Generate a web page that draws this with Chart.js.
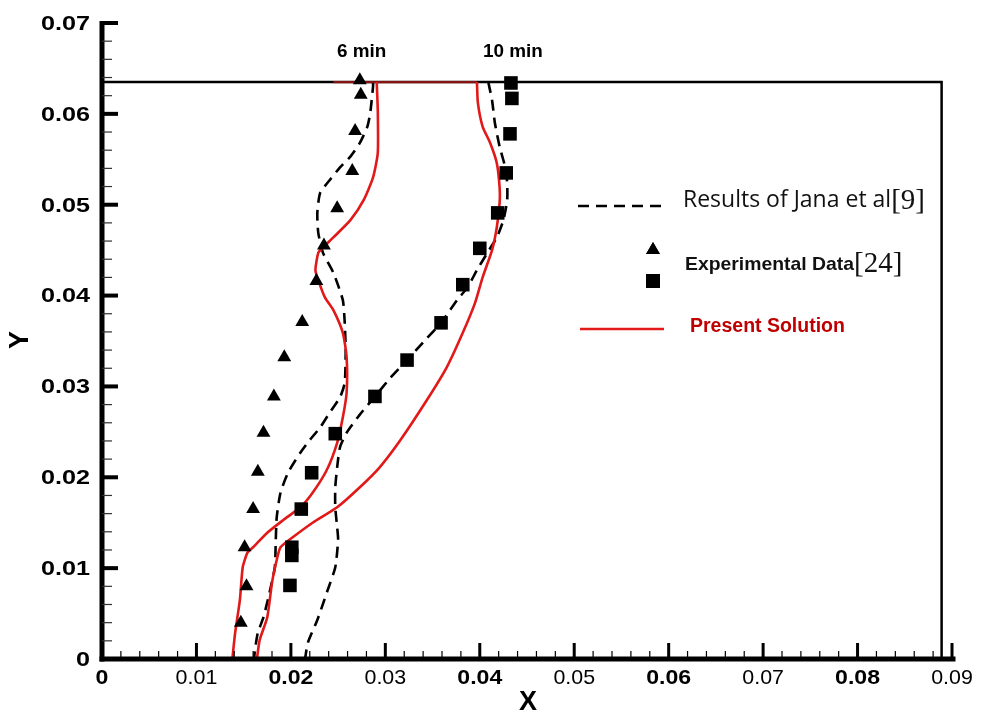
<!DOCTYPE html>
<html><head><meta charset="utf-8">
<script src="https://cdn.jsdelivr.net/npm/chart.js@4.4.0/dist/chart.umd.min.js"></script>
<style>html,body{margin:0;padding:0;background:#fff}#wrap{width:982px;height:716px;position:relative}</style>
</head><body><div id="wrap"><canvas id="c"></canvas></div>
<script>
// ---- tick labels ----
const xTickValues = [0,0.01,0.02,0.03,0.04,0.05,0.06,0.07,0.08,0.09];
const xTickLabels = ['0','0.01','0.02','0.03','0.04','0.05','0.06','0.07','0.08','0.09'];
const yTickValues = [0,0.01,0.02,0.03,0.04,0.05,0.06,0.07];
const yTickLabels = ['0','0.01','0.02','0.03','0.04','0.05','0.06','0.07'];
const tankWidth = 0.0889, tankHeight = 0.0635;
const timeLabels = ['6 min','10 min'];
const timeLabelX = [0.0275, 0.0435];
const timeLabelY = [0.0668, 0.0668];
const legendLabels = ['Results of Jana et al','[9]','Experimental Data','[24]','Present Solution'];

// ---- Experimental data [24] ----
const exp6X  = [0.0273,0.0274,0.0268,0.0265,0.0249,0.0235,0.0227,0.0212,0.0193,0.0182,0.0171,0.0165,0.0160,0.0151,0.0153,0.0147];
const exp6Y  = [0.0637,0.0621,0.0581,0.0537,0.0496,0.0455,0.0416,0.0371,0.0332,0.0289,0.0249,0.0206,0.0165,0.0123,0.0080,0.0040];
const exp10X = [0.0433,0.0434,0.0432,0.0428,0.0419,0.0400,0.0382,0.0359,0.0323,0.0289,0.0247,0.0222,0.0211,0.0201,0.0201,0.0199];
const exp10Y = [0.0634,0.0617,0.0578,0.0535,0.0491,0.0452,0.0412,0.0370,0.0329,0.0289,0.0248,0.0205,0.0165,0.0123,0.0114,0.0081];

// ---- Results of Jana et al [9] ----
const jana6X  = [0.0287,0.0287,0.0284,0.0281,0.0273,0.0263,0.0252,0.0241,0.0231,0.0228,0.0229,0.0234,0.0245,0.0255,0.0257,0.0258,0.0257,0.0252,0.0241,0.0231,0.0220,0.0210,0.0197,0.0189,0.0185,0.0184,0.0183,0.0178,0.0171,0.0165,0.0162,0.0161];
const jana6Y  = [0.0635,0.0630,0.0601,0.0586,0.0568,0.0553,0.0541,0.0527,0.0513,0.0491,0.0469,0.0447,0.0425,0.0395,0.0370,0.0340,0.0304,0.0288,0.0271,0.0255,0.0241,0.0227,0.0205,0.0183,0.0156,0.0131,0.0101,0.0076,0.0046,0.0029,0.0010,0];
const jana10X = [0.0409,0.0413,0.0416,0.0421,0.0427,0.0429,0.0429,0.0425,0.0418,0.0408,0.0397,0.0387,0.0376,0.0359,0.0344,0.0323,0.0305,0.0289,0.0273,0.0259,0.0252,0.0249,0.0247,0.0247,0.0249,0.0250,0.0247,0.0238,0.0228,0.0218,0.0215];
const jana10Y = [0.0635,0.0615,0.0590,0.0564,0.0541,0.0524,0.0505,0.0483,0.0464,0.0447,0.0428,0.0409,0.0395,0.0370,0.0353,0.0329,0.0309,0.0289,0.0269,0.0249,0.0233,0.0211,0.0189,0.0167,0.0145,0.0131,0.0101,0.0073,0.0043,0.0018,0];

// ---- Present Solution ----
const present6X  = [0.0138,0.0141,0.0146,0.0149,0.0154,0.0160,0.0175,0.0192,0.0210,0.0223,0.0238,0.0249,0.0255,0.0259,0.0259,0.0255,0.0245,0.0236,0.0229,0.0226,0.0229,0.0234,0.0245,0.0263,0.0277,0.0287,0.0292,0.0292,0.0291,0.0291];
const present6Y  = [0,0.0029,0.0065,0.0101,0.0117,0.0123,0.0139,0.0153,0.0167,0.0183,0.0208,0.0238,0.0266,0.0293,0.0332,0.0359,0.0384,0.0398,0.0417,0.0428,0.0447,0.0453,0.0464,0.0483,0.0505,0.0530,0.0557,0.0604,0.0632,0.0635];
const present10X = [0.0397,0.0398,0.0403,0.0411,0.0418,0.0421,0.0421,0.0418,0.0413,0.0403,0.0395,0.0382,0.0365,0.0344,0.0316,0.0294,0.0273,0.0249,0.0223,0.0202,0.0189,0.0185,0.0180,0.0175,0.0167,0.0164];
const present10Y = [0.0635,0.0612,0.0586,0.0568,0.0546,0.0519,0.0502,0.0475,0.0450,0.0420,0.0392,0.0359,0.0321,0.0285,0.0241,0.0211,0.0189,0.0167,0.0150,0.0134,0.0123,0.0109,0.0084,0.0046,0.0021,0];
// free-surface segment of the present solution joining the two profiles
const presentTopX = [0.0245, 0.0397];
const presentTopY = [0.0635, 0.0635];

const pts = (xs, ys) => xs.map((v, i) => ({x: v, y: ys[i]}));
const RED = 'rgb(225,25,25)';
const DASH = [11, 7];
const FONT = '"Liberation Sans", Arial, Helvetica, sans-serif';

function txt(ctx, s, x, y, font, align, base, color, sx) {
  ctx.save();
  ctx.font = font; ctx.textAlign = align; ctx.textBaseline = base; ctx.fillStyle = color;
  ctx.translate(x, y); ctx.scale(sx || 1, 1);
  ctx.fillText(s, 0, 0);
  ctx.restore();
}

const deco = {
  id: 'deco',
  beforeDatasetsDraw(chart) {
    const {ctx, scales: {x, y}} = chart;
    const x0 = x.getPixelForValue(0), y0 = y.getPixelForValue(0);
    const yT = y.getPixelForValue(tankHeight), xR = x.getPixelForValue(tankWidth);
    ctx.save();
    ctx.strokeStyle = '#000'; ctx.lineWidth = 2.5;
    ctx.beginPath(); ctx.moveTo(x0, yT); ctx.lineTo(xR, yT); ctx.lineTo(xR, y0); ctx.stroke();
    ctx.restore();
  },
  afterDatasetsDraw(chart) {
    const {ctx, scales: {x, y}} = chart;
    const x0 = x.getPixelForValue(0), y0 = y.getPixelForValue(0);
    const xE = x.getPixelForValue(0.09), yE = y.getPixelForValue(0.07);
    ctx.save();
    ctx.fillStyle = '#000';
    // axes
    ctx.fillRect(x0 - 2.5, yE - 2, 5, y0 - yE + 4.5);
    ctx.fillRect(x0 - 2.5, y0 - 2.5, xE - x0 + 6, 5);
    // x ticks
    for (let k = 0; k <= 45; k++) {
      const px = x.getPixelForValue(k * 0.002);
      if (k % 5 === 0) ctx.fillRect(px - 1.5, y0 - 16, 3, 16);
      else ctx.fillRect(px - 0.6, y0 - 8, 1.2, 8);
    }
    // y ticks
    for (let k = 0; k <= 35; k++) {
      const py = y.getPixelForValue(k * 0.002);
      if (k % 5 === 0) ctx.fillRect(x0, py - 2, 16, 4);
      else { ctx.fillStyle = '#333'; ctx.fillRect(x0, py - 0.6, 10, 1.2); ctx.fillStyle = '#000'; }
    }
    // tick labels
    xTickValues.forEach((v, i) => {
      const bold = i % 2 === 0;
      txt(ctx, xTickLabels[i], x.getPixelForValue(v), 668, (bold ? 'bold ' : '') + '21px ' + FONT, 'center', 'top', '#000', bold ? 1.1 : 1.02);
    });
    yTickValues.forEach((v, i) => {
      txt(ctx, yTickLabels[i], 90, y.getPixelForValue(v) + 1, 'bold 21px ' + FONT, 'right', 'middle', '#000', 1.2);
    });
    // axis titles
    txt(ctx, 'X', 528, 703, 'bold 27px ' + FONT, 'center', 'middle', '#000', 1);
    ctx.save(); ctx.translate(21, 340); ctx.rotate(-Math.PI / 2);
    txt(ctx, 'Y', 0, 0, 'bold 27px ' + FONT, 'center', 'middle', '#000', 1);
    ctx.restore();
    // time annotations
    timeLabels.forEach((s, i) => {
      txt(ctx, s, x.getPixelForValue(timeLabelX[i]), y.getPixelForValue(timeLabelY[i]), 'bold 18px ' + FONT, 'center', 'middle', '#000', 1.05);
    });
    // legend
    ctx.strokeStyle = '#000'; ctx.lineWidth = 2.5; ctx.setLineDash(DASH);
    ctx.beginPath(); ctx.moveTo(578, 206); ctx.lineTo(664, 206); ctx.stroke();
    ctx.setLineDash([]);
    txt(ctx, legendLabels[0], 683, 207, '23px "Open Sans", sans-serif', 'left', 'alphabetic', '#111', 1);
    ctx.font = '23px "Open Sans", sans-serif';
    const w0 = ctx.measureText(legendLabels[0]).width;
    txt(ctx, legendLabels[1], 683 + w0, 209, '29px "Liberation Serif", serif', 'left', 'alphabetic', '#111', 1);
    // markers
    Chart.helpers.drawPoint(ctx, {pointStyle: 'triangle', radius: 8, borderWidth: 0, rotation: 0}, 653, 250);
    ctx.fill();
    txt(ctx, legendLabels[2], 685, 270, 'bold 19px ' + FONT, 'left', 'alphabetic', '#111', 1.02);
    ctx.font = 'bold 19px ' + FONT;
    const w2 = ctx.measureText(legendLabels[2]).width * 1.02;
    txt(ctx, legendLabels[3], 685 + w2, 272, '29px "Liberation Serif", serif', 'left', 'alphabetic', '#111', 1);
    ctx.fillStyle = '#000';
    ctx.fillRect(646, 274, 14, 14);
    ctx.strokeStyle = RED; ctx.lineWidth = 2.5;
    ctx.beginPath(); ctx.moveTo(580, 329); ctx.lineTo(664, 329); ctx.stroke();
    txt(ctx, legendLabels[4], 690, 332, 'bold 19.5px ' + FONT, 'left', 'alphabetic', '#c00000', 1);
    ctx.restore();
  }
};

new Chart(document.getElementById('c'), {
  type: 'scatter',
  data: {
    datasets: [
      {label: 'exp6', data: pts(exp6X, exp6Y), pointStyle: 'triangle', pointRadius: 8, backgroundColor: '#000', borderColor: '#000', borderWidth: 0, showLine: false, order: 0},
      {label: 'exp10', data: pts(exp10X, exp10Y), pointStyle: 'rect', pointRadius: 9.6, backgroundColor: '#000', borderColor: '#000', borderWidth: 0, showLine: false, order: 0},
      {label: 'present6', data: pts(present6X, present6Y), showLine: true, borderColor: RED, borderWidth: 2.6, pointRadius: 0, tension: 0.2, order: 1},
      {label: 'present10', data: pts(present10X, present10Y), showLine: true, borderColor: RED, borderWidth: 2.6, pointRadius: 0, tension: 0.2, order: 1},
      {label: 'presentTop', data: pts(presentTopX, presentTopY), showLine: true, borderColor: 'rgba(150,20,20,0.9)', borderWidth: 2.2, pointRadius: 0, tension: 0, order: 1},
      {label: 'jana6', data: pts(jana6X, jana6Y), showLine: true, borderColor: '#000', borderWidth: 2.6, borderDash: DASH, pointRadius: 0, tension: 0.2, order: 2},
      {label: 'jana10', data: pts(jana10X, jana10Y), showLine: true, borderColor: '#000', borderWidth: 2.6, borderDash: DASH, pointRadius: 0, tension: 0.2, order: 2}
    ]
  },
  options: {
    responsive: true, maintainAspectRatio: false, animation: false,
    layout: {padding: {left: 102, right: 30, top: 23, bottom: 57}},
    plugins: {legend: {display: false}, tooltip: {enabled: false}},
    scales: {
      x: {type: 'linear', min: 0, max: 0.09, display: false},
      y: {type: 'linear', min: 0, max: 0.07, display: false}
    },
    elements: {point: {hoverRadius: 0}}
  },
  plugins: [deco]
});
</script>
</body></html>
